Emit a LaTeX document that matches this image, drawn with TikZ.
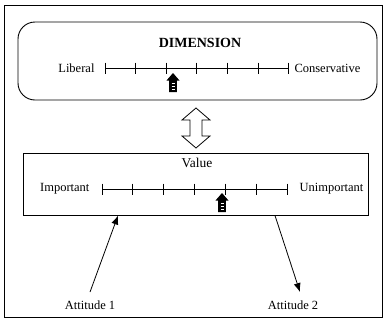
\documentclass[tikz,border=0pt]{standalone}
\usepackage{fontspec}
\setmainfont{Liberation Serif}
\usetikzlibrary{arrows.meta,calc}

\tikzset{
  pointer/.pic={
      \fill (0,0) -- (6.5,7.5) -- (3.8,7.5) -- (3.8,19) -- (-3.8,19)
        -- (-3.8,7.5) -- (-6.5,7.5) -- cycle;
      \draw[white,line width=0.6pt] (-1.5,10) -- (1.5,10) (-1.5,13) -- (1.5,13)
        (-1.5,16) -- (1.5,16);
    }
}

\begin{document}
\begin{tikzpicture}[
    x=1pt,
    y=-1pt,
    declare function = {
        d = 30.6; h = 5.5;
      },
    every node/.style={font=\fontsize{12.5}{14}\selectfont},
    box/.style={draw,line width=0.9pt,inner sep=0pt},
    attitude/.style={-{Latex[length=9pt,width=7pt]},line width=0.8pt}
  ]
  \useasboundingbox (0,0) rectangle (386,322);
  \draw[line width=0.9pt] (4,5) rectangle (382,317);

  % the dimension
  \node[box,rounded corners=17pt,minimum width=359pt,minimum height=78pt]
    (dim) at (197.5,61) {};
  \node[font=\fontsize{14}{16}\selectfont\bfseries] (dimtitle) at (200,43) {DIMENSION};
  \coordinate (d0) at (105,68);
  \coordinate (d6) at (288,68);
  \draw[line width=0.8pt] (d0) -- (d6);
  \foreach \i in {0,...,6}
    \draw[line width=0.8pt] ($(d0)+(\i*d,-h)$) -- ++(0,2*h);
  \node[anchor=east] (lib) at ($(d0)+(-7,0)$) {Liberal};
  \node[anchor=west] (cons) at ($(d6)+(3,0)$) {Conservative};
  \pic at (173,73) {pointer};

  % the value
  \node[box,minimum width=345pt,minimum height=62pt]
    (val) at (195.5,184) {};
  \node[font=\fontsize{13.5}{15}\selectfont] (valtitle) at (197,163) {Value};
  \coordinate (v0) at (102,189);
  \coordinate (v6) at (287,189);
  \draw[line width=0.8pt] (v0) -- (v6);
  \foreach \i in {0,...,6}
    \draw[line width=0.8pt] ($(v0)+(\i*30.83,-h)$) -- ++(0,2*h);
  \node[anchor=east] (imp) at ($(v0)+(-9,0)$) {Important};
  \node[anchor=west] (unimp) at ($(v6)+(9,0)$) {Unimportant};
  \pic at (222,193) {pointer};

  % link between the two boxes
  \coordinate (link) at (196,128);
  \draw[line width=0.8pt,fill=white]
    ($(link)+(0,-20)$) -- ++(14,12) -- ++(-8,0) -- ++(0,16) -- ++(8,0)
    -- ($(link)+(0,20)$) -- ++(-14,-12) -- ++(8,0) -- ++(0,-16) -- ++(-8,0)
    -- cycle;

  % attitudes
  \node (att1) at (90,305) {Attitude 1};
  \node (att2) at (293,305) {Attitude 2};
  \coordinate (in1) at (118,215.5);
  \coordinate (out2) at (275,215.5);
  \draw[attitude] ($(att1.north)+(0,-5)$) -- (in1);
  \draw[attitude] (out2) -- ($(att2.north)+(7,-5)$);
\end{tikzpicture}
\end{document}
